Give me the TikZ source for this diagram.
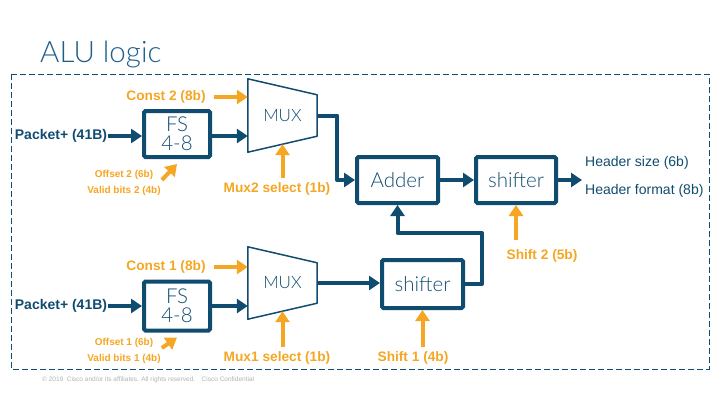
\documentclass[tikz,border=0pt]{standalone}
\usepackage{fontspec}
\setmainfont{Liberation Sans}
\newfontfamily\lightfont{Lato Light}
\usetikzlibrary{arrows.meta,calc}
\definecolor{ciscoblue}{RGB}{16,76,112}
\definecolor{titleblue}{RGB}{31,95,140}
\definecolor{signal}{RGB}{245,166,35}
\tikzset{
  blk/.style={draw=ciscoblue,line width=4pt,rounded corners=1.5pt,minimum width=81pt,minimum height=46pt,inner sep=0pt,text=ciscoblue,font=\lightfont\fontsize{20.5}{22}\selectfont,align=center},
  muxbox/.style={minimum width=69pt,minimum height=73pt,inner sep=0pt,text=ciscoblue,font=\lightfont\fontsize{17}{18}\selectfont},
  muxline/.style={draw=ciscoblue,line width=1.5pt,line join=round},
  bus/.style={ciscoblue,line width=4pt,line join=round,-{Triangle[length=11pt,width=14pt]}},
  ctl/.style={signal,line width=4pt,-{Triangle[length=11pt,width=14pt]}},
  inlbl/.style={text=ciscoblue,inner sep=1pt,font=\bfseries\fontsize{14}{16}\selectfont},
  ctllbl/.style={text=signal,inner sep=1pt,font=\bfseries\fontsize{13.7}{16}\selectfont},
  smlbl/.style={text=signal,inner sep=1pt,align=center,font=\bfseries\fontsize{10}{16}\selectfont},
  outlbl/.style={anchor=west,text=ciscoblue,inner sep=0pt,font=\fontsize{14}{16}\selectfont},
}

\begin{document}
\begin{tikzpicture}[x=1pt,y=-1pt]
 \useasboundingbox (0,0) rectangle (720,405);
 \node[anchor=base west,inner sep=0pt,text=titleblue,font=\lightfont\fontsize{29.5}{31}\selectfont] (title) at (40,62) {ALU logic};
 \draw[ciscoblue,line width=0.8pt,dash pattern=on 6pt off 3pt] (11,74) rectangle (709,369); % frame

 % upper path
 \node[inlbl] (pk2) at (61,136) {Packet+ (41B)};
 \node[blk,minimum width=66pt] (fs2) at (177,134) {FS\\[-3pt]4-8};
 \node[muxbox] (mux2) at (282.5,115.5) {MUX};
 \draw[muxline] (mux2.north west) -- ($(mux2.north east)+(0,16)$) -- ($(mux2.south east)+(0,-16)$) -- (mux2.south west) -- cycle;
 \node[ctllbl] (c2) at (166,97) {Const 2 (8b)};
 \node[smlbl] (ofs2) at (124,183) {Offset 2 (6b)\\Valid bits 2 (4b)};
 \node[ctllbl] (sel2) at (277,189) {Mux2 select (1b)};

 % lower path
 \node[inlbl] (pk1) at (61,306) {Packet+ (41B)};
 \node[blk,minimum width=66pt,minimum height=49pt] (fs1) at (177,306) {FS\\[-3pt]4-8};
 \node[muxbox,minimum height=72pt] (mux1) at (282.5,283) {MUX};
 \draw[muxline] (mux1.north west) -- ($(mux1.north east)+(0,16)$) -- ($(mux1.south east)+(0,-16)$) -- (mux1.south west) -- cycle;
 \node[ctllbl] (c1) at (166,267) {Const 1 (8b)};
 \node[smlbl] (ofs1) at (124,351) {Offset 1 (6b)\\Valid bits 1 (4b)};
 \node[ctllbl] (sel1) at (277,358) {Mux1 select (1b)};

 % adder and shifters
 \node[blk] (adder) at (397.5,180) {Adder};
 \node[blk,minimum width=80pt] (sh2) at (516,180) {shifter};
 \node[blk,minimum height=48pt] (sh1) at (422.5,284) {shifter};
 \node[ctllbl] (s2) at (542,256) {Shift 2 (5b)};
 \node[ctllbl] (s1) at (413,358) {Shift 1 (4b)};
 \coordinate (out) at (582,180);
 \node[outlbl] (hsize) at (585,163) {Header size (6b)};
 \node[outlbl] (hfmt) at (585,191) {Header format (8b)};

 % data paths
 \draw[bus] (pk2.east) -- (pk2.east -| fs2.west);
 \draw[bus] ($(fs2.east)+(0,2)$) -- ($(fs2.east -| mux2.west)+(0,2)$);
 \draw[bus] (mux2.east) -- ++(20,0) |- (adder.west);
 \draw[bus] (pk1.east) -- (pk1.east -| fs1.west);
 \draw[bus] (fs1.east) -- (fs1.east -| mux1.west);
 \draw[bus] (mux1.east) -- (mux1.east -| sh1.west);
 \draw[bus] (sh1.east) -- ++(17,0) |- ($(adder.south)+(0,28)$) -- (adder.south);
 \draw[bus] (adder.east) -- (sh2.west);
 \draw[bus] (sh2.east) -- (out);

 % control inputs
 \draw[ctl] ([xshift=7pt]c2.east) -- (c2.east -| mux2.west);
 \draw[ctl] ([xshift=7pt]c1.east) -- (c1.east -| mux1.west);
 \draw[ctl] ($(ofs2.east)+(0,-3)$) -- ($(fs2.south)+(0,5)$);
 \draw[ctl] ($(ofs1.east)+(0,-3)$) -- ($(fs1.south)+(0,5)$);
 \draw[ctl] ($(mux2.south)+(0,26)$) -- ($(mux2.south)+(0,-8)$);
 \draw[ctl] ($(mux1.south)+(0,28)$) -- ($(mux1.south)+(0,-8)$);
 \draw[ctl] ($(sh2.south)+(0,35)$) -- (sh2.south);
 \draw[ctl] ($(sh1.south)+(0,37)$) -- (sh1.south);

 \node[anchor=west,text=black!30,inner sep=0pt,font=\fontsize{6.5}{7}\selectfont] (copy) at (42,380) {\textcopyright{} 2019\ \ Cisco and/or its affiliates. All rights reserved.\quad Cisco Confidential};
\end{tikzpicture}
\end{document}
